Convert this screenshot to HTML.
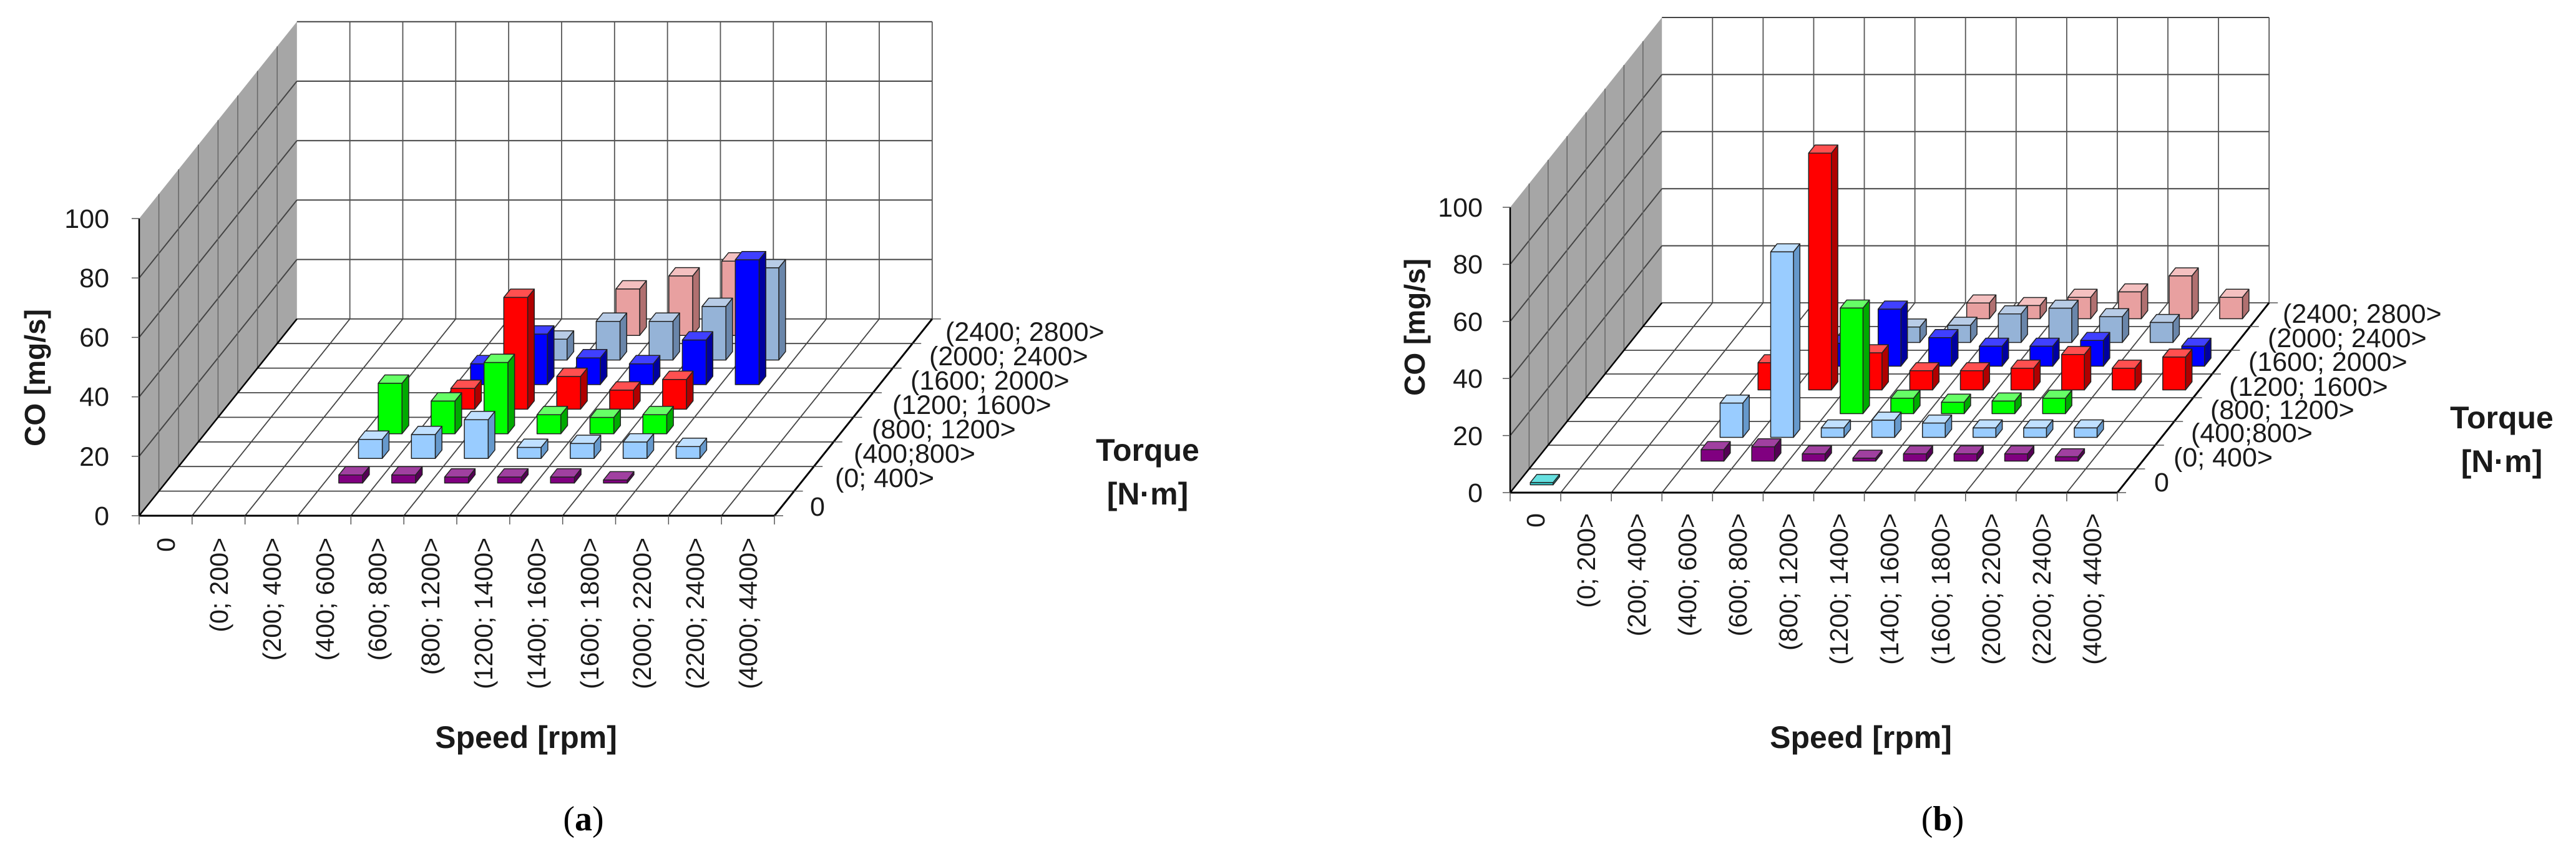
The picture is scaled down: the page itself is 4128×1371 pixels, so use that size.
<!DOCTYPE html>
<html><head><meta charset="utf-8">
<style>
html,body{margin:0;padding:0;background:#fff;}
svg{display:block;}
text{font-family:"Liberation Sans",Arial,sans-serif;fill:#1a1a1a;}
.t{font-size:43px;}
.b{font-weight:bold;font-size:50px;}
.cap{font-family:"Liberation Serif",serif;font-size:56px;fill:#000;}
</style></head>
<body>
<svg id="s" width="4128" height="1371" viewBox="0 0 4128 1371" xmlns="http://www.w3.org/2000/svg">
<g id="ga"></g>
<g id="gb"></g>
<!-- Chart a labels -->
<g class="t" text-anchor="end">
<text x="175" y="841">0</text><text x="175" y="746">20</text><text x="175" y="650">40</text>
<text x="175" y="555">60</text><text x="175" y="460">80</text><text x="175" y="365">100</text>
</g>
<text class="b" transform="translate(72,605) rotate(-90)" text-anchor="middle" style="font-size:46px">CO [mg/s]</text>
<g class="t" style="font-size:41px" text-anchor="end">
<text transform="translate(280,861) rotate(-90)">0</text>
<text transform="translate(365,861) rotate(-90)">(0; 200&gt;</text>
<text transform="translate(450,861) rotate(-90)">(200; 400&gt;</text>
<text transform="translate(535,861) rotate(-90)">(400; 600&gt;</text>
<text transform="translate(619,861) rotate(-90)">(600; 800&gt;</text>
<text transform="translate(704,861) rotate(-90)">(800; 1200&gt;</text>
<text transform="translate(789,861) rotate(-90)">(1200; 1400&gt;</text>
<text transform="translate(874,861) rotate(-90)">(1400; 1600&gt;</text>
<text transform="translate(959,861) rotate(-90)">(1600; 1800&gt;</text>
<text transform="translate(1043,861) rotate(-90)">(2000; 2200&gt;</text>
<text transform="translate(1128,861) rotate(-90)">(2200; 2400&gt;</text>
<text transform="translate(1213,861) rotate(-90)">(4000; 4400&gt;</text>
</g>
<text class="b" x="843" y="1198" text-anchor="middle">Speed [rpm]</text>
<g class="t">
<text x="1515" y="546">(2400; 2800&gt;</text>
<text x="1489" y="585">(2000; 2400&gt;</text>
<text x="1459" y="624">(1600; 2000&gt;</text>
<text x="1430" y="663">(1200; 1600&gt;</text>
<text x="1397" y="702">(800; 1200&gt;</text>
<text x="1368" y="741">(400;800&gt;</text>
<text x="1338" y="780">(0; 400&gt;</text>
<text x="1298" y="826">0</text>
</g>
<text class="b" x="1839" y="738" text-anchor="middle">Torque</text>
<text class="b" x="1839" y="808" text-anchor="middle">[N·m]</text>
<text class="cap" x="935" y="1330" text-anchor="middle">(<tspan style="font-weight:bold">a</tspan>)</text>

<!-- Chart b labels -->
<g class="t" text-anchor="end">
<text x="2376" y="804">0</text><text x="2376" y="713">20</text><text x="2376" y="621">40</text>
<text x="2376" y="530">60</text><text x="2376" y="438">80</text><text x="2376" y="347">100</text>
</g>
<text class="b" transform="translate(2283,524) rotate(-90)" text-anchor="middle" style="font-size:46px">CO [mg/s]</text>
<g class="t" style="font-size:41px" text-anchor="end">
<text transform="translate(2475,822) rotate(-90)">0</text>
<text transform="translate(2556,822) rotate(-90)">(0; 200&gt;</text>
<text transform="translate(2637,822) rotate(-90)">(200; 400&gt;</text>
<text transform="translate(2718,822) rotate(-90)">(400; 600&gt;</text>
<text transform="translate(2799,822) rotate(-90)">(600; 800&gt;</text>
<text transform="translate(2880,822) rotate(-90)">(800; 1200&gt;</text>
<text transform="translate(2961,822) rotate(-90)">(1200; 1400&gt;</text>
<text transform="translate(3042,822) rotate(-90)">(1400; 1600&gt;</text>
<text transform="translate(3124,822) rotate(-90)">(1600; 1800&gt;</text>
<text transform="translate(3205,822) rotate(-90)">(2000; 2200&gt;</text>
<text transform="translate(3286,822) rotate(-90)">(2200; 2400&gt;</text>
<text transform="translate(3367,822) rotate(-90)">(4000; 4400&gt;</text>
</g>
<text class="b" x="2982" y="1198" text-anchor="middle">Speed [rpm]</text>
<g class="t">
<text x="3658" y="517">(2400; 2800&gt;</text>
<text x="3634" y="556">(2000; 2400&gt;</text>
<text x="3603" y="594">(1600; 2000&gt;</text>
<text x="3572" y="634">(1200; 1600&gt;</text>
<text x="3542" y="671">(800; 1200&gt;</text>
<text x="3511" y="708">(400;800&gt;</text>
<text x="3483" y="747">(0; 400&gt;</text>
<text x="3452" y="787">0</text>
</g>
<text class="b" x="4009" y="686" text-anchor="middle">Torque</text>
<text class="b" x="4009" y="756" text-anchor="middle">[N·m]</text>
<text class="cap" x="3113" y="1330" text-anchor="middle">(<tspan style="font-weight:bold">b</tspan>)</text>
</svg>
<script>
var NS="http://www.w3.org/2000/svg";
function el(g,tag,a){var e=document.createElementNS(NS,tag);for(var k in a)e.setAttribute(k,a[k]);g.appendChild(e);return e;}
var COL=[
 ["#33cccc","#229999","#66e0e0"],
 ["#800080","#550055","#a040a0"],
 ["#99ccff","#6699cc","#c0e0ff"],
 ["#00ff00","#00aa00","#66ff66"],
 ["#ff0000","#b00000","#ff5050"],
 ["#0000ff","#0000a0","#4040ff"],
 ["#95b3d7","#6a86aa","#b8cce6"],
 ["#e8a0a0","#b07070","#f4c0c0"]];
function pts(a){return a.map(function(p){return p[0].toFixed(1)+","+p[1].toFixed(1)}).join(" ");}
function chart(g,c){
 var ox=c.ox,oy=c.oy,W=c.W,H=c.H,dx=c.dx,dy=c.dy,cw=W/12;
 var bx=ox+8*dx,by=oy+8*dy;
 // left wall
 el(g,"polygon",{points:pts([[ox,oy],[ox,oy-H],[bx,by-H],[bx,by]]),fill:"#a6a6a6",stroke:"none"});
 for(var k=1;k<5;k++)el(g,"line",{x1:ox,y1:oy-k*H/5,x2:bx,y2:by-k*H/5,stroke:"#444","stroke-width":2});
 for(var r=1;r<8;r++)el(g,"line",{x1:ox+r*dx,y1:oy+r*dy,x2:ox+r*dx,y2:oy+r*dy-H,stroke:"#666","stroke-width":1.5});
 // back wall grid
 for(var k=1;k<=5;k++)el(g,"line",{x1:bx,y1:by-k*H/5,x2:bx+W,y2:by-k*H/5,stroke:"#444","stroke-width":2});
 for(var i=1;i<=12;i++)el(g,"line",{x1:bx+i*cw,y1:by,x2:bx+i*cw,y2:by-H,stroke:"#555","stroke-width":1.8});
 // floor grid
 for(var r=1;r<=8;r++)el(g,"line",{x1:ox+r*dx,y1:oy+r*dy,x2:ox+r*dx+W,y2:oy+r*dy,stroke:"#444","stroke-width":1.8});
 for(var i=1;i<=12;i++)el(g,"line",{x1:ox+i*cw,y1:oy,x2:ox+i*cw+8*dx,y2:oy+8*dy,stroke:"#444","stroke-width":1.8});
 // axes
 el(g,"line",{x1:ox,y1:oy,x2:ox+W,y2:oy,stroke:"#000","stroke-width":3});
 el(g,"line",{x1:ox,y1:oy,x2:ox,y2:oy-H,stroke:"#000","stroke-width":2.5});
 el(g,"line",{x1:ox,y1:oy,x2:bx,y2:by,stroke:"#000","stroke-width":2.5});
 el(g,"line",{x1:ox+W,y1:oy,x2:bx+W,y2:by,stroke:"#000","stroke-width":3});
 for(var i=0;i<=12;i++)el(g,"line",{x1:ox+i*cw,y1:oy,x2:ox+i*cw,y2:oy+14,stroke:"#555","stroke-width":1.5});
 for(var k=0;k<=5;k++)el(g,"line",{x1:ox-12,y1:oy-k*H/5,x2:ox,y2:oy-k*H/5,stroke:"#555","stroke-width":1.5});
 for(var r=0;r<=8;r++)el(g,"line",{x1:ox+W+r*dx,y1:oy+r*dy,x2:ox+W+r*dx+14,y2:oy+r*dy,stroke:"#555","stroke-width":1.5});
 // bars back to front
 var bw=cw*0.45,m=(cw-bw)/2,u=H/100;
 for(var r=7;r>=0;r--){
  var row=c.data[r]||{};
  for(var i=0;i<12;i++){
   if(row[i]===undefined)continue;
   var h=row[i]*u, d=r+0.33;
   var x0=ox+i*cw+d*dx+m, y0=oy+d*dy;
   var ddx=0.34*dx, ddy=0.34*dy, col=COL[r];
   var st={stroke:"#222","stroke-width":1.5,"stroke-linejoin":"round"};
   var f=[[x0,y0],[x0+bw,y0],[x0+bw,y0-h],[x0,y0-h]];
   var s=[[x0+bw,y0],[x0+bw+ddx,y0+ddy],[x0+bw+ddx,y0+ddy-h],[x0+bw,y0-h]];
   var t=[[x0,y0-h],[x0+bw,y0-h],[x0+bw+ddx,y0+ddy-h],[x0+ddx,y0+ddy-h]];
   el(g,"polygon",Object.assign({points:pts(s),fill:col[1]},st));
   el(g,"polygon",Object.assign({points:pts(t),fill:col[2]},st));
   el(g,"polygon",Object.assign({points:pts(f),fill:col[0]},st));
  }
 }
}
chart(document.getElementById("ga"),{ox:223,oy:826,W:1018,H:476,dx:31.6,dy:-39.4,data:[
 {},
 {3:2.7,4:2.7,5:2,6:2,7:2,8:1},
 {3:6.4,4:8,5:13,6:3.7,7:5,8:5.5,9:4},
 {3:17,4:11,5:24,6:6.4,7:5.5,8:6.4},
 {4:7,5:37.6,6:11,7:6.4,8:10},
 {4:7,5:17,6:9,7:7,8:15,9:42},
 {5:7,6:13,7:13,8:18,9:31},
 {6:15.6,7:20,8:25}]});
chart(document.getElementById("gb"),{ox:2420,oy:789,W:973,H:457,dx:30.4,dy:-38,data:[
 {0:0.8},
 {3:4,4:5,5:2.5,6:1,7:2.5,8:2.5,9:2.5,10:1.5},
 {3:12,4:65,5:3.3,6:6,7:5,8:3.3,9:3.3,10:3.3},
 {5:37,6:5.4,7:4,8:4.4,9:5.4},
 {3:9.5,4:83,5:13,6:6.7,7:6.7,8:7.6,9:12.4,10:7.6,11:11.5},
 {4:8,5:20,6:10,7:7,8:7,9:9,11:7},
 {5:5.4,6:6,7:10,8:12,9:9,10:7},
 {6:5.5,7:4.6,8:7.5,9:9.4,10:15,11:7.5}]});
</script>
</body></html>
